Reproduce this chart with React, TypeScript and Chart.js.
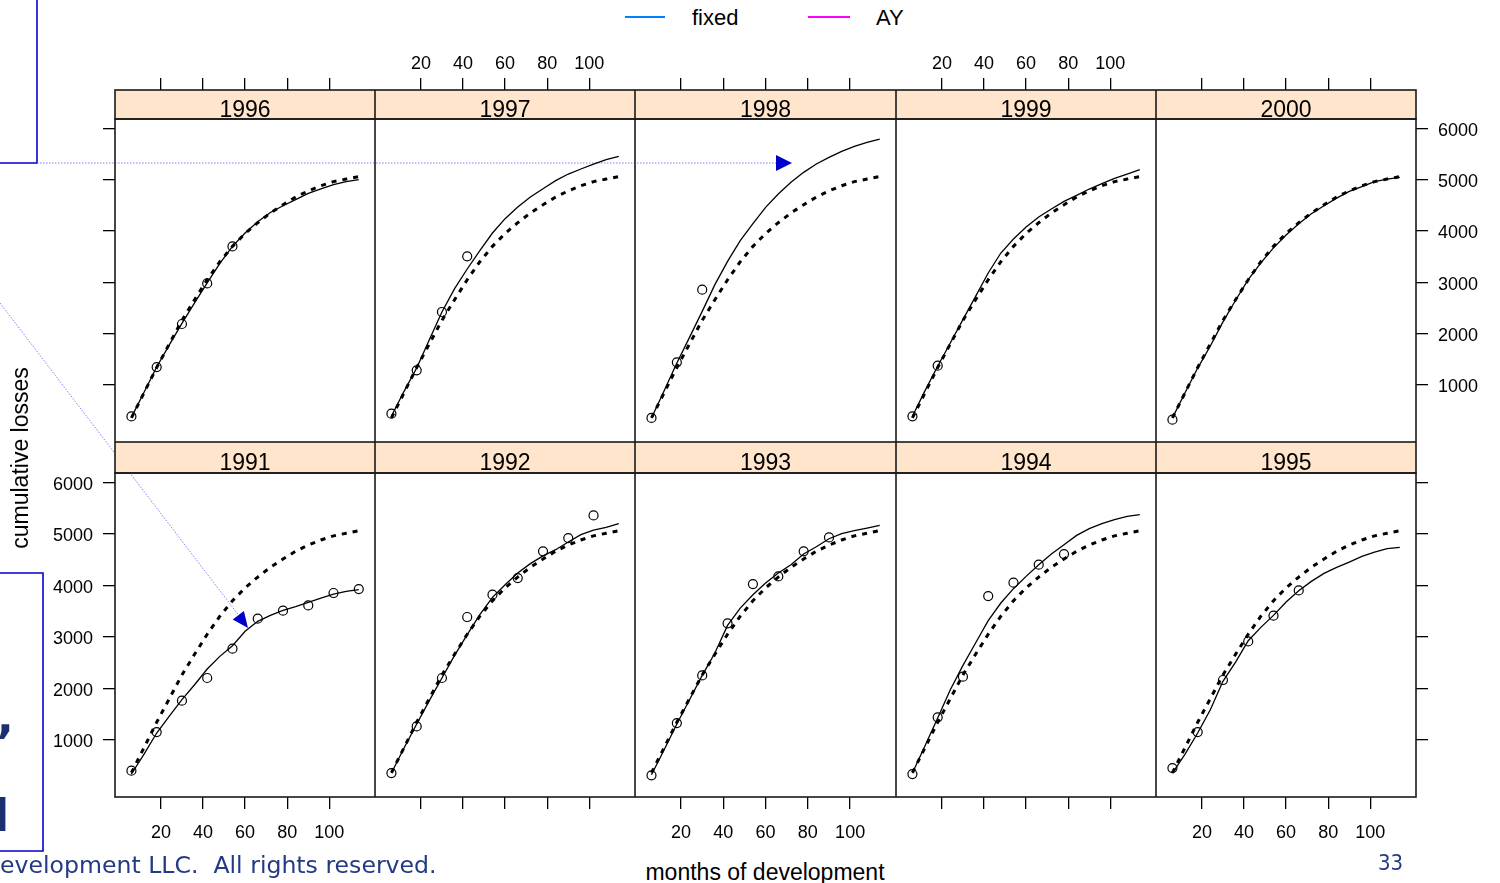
import React, { useEffect, useRef } from "react";
import { Chart, registerables } from "chart.js";

Chart.register(...registerables);

// ---------------- data ----------------
const CURVE_MONTHS = [6, 12, 18, 24, 30, 36, 42, 48, 54, 60, 66, 72, 78, 84, 90, 96, 102, 108, 114];
const OBS_MONTHS = [6, 18, 30, 42, 54, 66, 78, 90, 102, 114];
const X_TICKS = [20, 40, 60, 80, 100];
const Y_TICKS = [1000, 2000, 3000, 4000, 5000, 6000];

const FIXED = [360, 850, 1340, 1800, 2260, 2660, 3050, 3400, 3700, 3950, 4160, 4350, 4510, 4660, 4780, 4880, 4960, 5010, 5060];

const AY_1996 = [370, 860, 1350, 1780, 2200, 2600, 2990, 3370, 3700, 3960, 4180, 4360, 4490, 4610, 4730, 4820, 4900, 4960, 5000];
const OBS_1996 = [388, 1350, 2188, 2978, 3699];
const AY_1997 = [390, 877, 1331, 1883, 2422, 2876, 3259, 3616, 3960, 4239, 4466, 4661, 4823, 4979, 5108, 5206, 5303, 5387, 5452];
const OBS_1997 = [442, 1286, 2422, 3505];
const AY_1998 = [358, 890, 1428, 1928, 2434, 2954, 3408, 3810, 4141, 4460, 4720, 4950, 5141, 5303, 5433, 5550, 5647, 5725, 5790];
const OBS_1998 = [358, 1442, 2856];
const AY_1999 = [390, 890, 1364, 1818, 2272, 2727, 3181, 3570, 3843, 4076, 4271, 4427, 4576, 4693, 4816, 4920, 5024, 5108, 5193];
const OBS_1999 = [390, 1376];
const AY_2000 = [360, 850, 1330, 1760, 2230, 2650, 3050, 3380, 3670, 3920, 4140, 4335, 4490, 4640, 4770, 4865, 4960, 5010, 5045];
const OBS_2000 = [325];
const AY_1991 = [336, 724, 1132, 1460, 1779, 2070, 2374, 2620, 2827, 3106, 3300, 3416, 3513, 3584, 3668, 3753, 3830, 3882, 3914];
const OBS_1991 = [401, 1151, 1760, 2200, 2769, 3351, 3507, 3610, 3850, 3927];
const AY_1992 = [355, 841, 1307, 1760, 2200, 2640, 3041, 3429, 3766, 4011, 4238, 4420, 4570, 4691, 4840, 4982, 5073, 5124, 5196];
const OBS_1992 = [355, 1261, 2200, 3384, 3817, 4141, 4659, 4917, 5357];
const AY_1993 = [323, 808, 1307, 1779, 2251, 2685, 3222, 3558, 3817, 4044, 4238, 4400, 4607, 4749, 4904, 5001, 5060, 5111, 5163];
const OBS_1993 = [310, 1326, 2251, 3261, 4024, 4173, 4659, 4930];
const AY_1994 = [355, 886, 1423, 1973, 2445, 2879, 3313, 3656, 3934, 4173, 4400, 4607, 4788, 4969, 5099, 5196, 5273, 5338, 5370];
const OBS_1994 = [336, 1436, 2226, 3791, 4050, 4400, 4607];
const AY_1995 = [355, 724, 1132, 1585, 2135, 2510, 2924, 3183, 3416, 3675, 3895, 4076, 4231, 4348, 4451, 4561, 4646, 4710, 4736];
const OBS_1995 = [452, 1151, 2161, 2911, 3410, 3901];

const PANELS = [
  { year: "1996", row: 0, col: 0, ay: AY_1996, obs: OBS_1996 },
  { year: "1997", row: 0, col: 1, ay: AY_1997, obs: OBS_1997 },
  { year: "1998", row: 0, col: 2, ay: AY_1998, obs: OBS_1998 },
  { year: "1999", row: 0, col: 3, ay: AY_1999, obs: OBS_1999 },
  { year: "2000", row: 0, col: 4, ay: AY_2000, obs: OBS_2000 },
  { year: "1991", row: 1, col: 0, ay: AY_1991, obs: OBS_1991 },
  { year: "1992", row: 1, col: 1, ay: AY_1992, obs: OBS_1992 },
  { year: "1993", row: 1, col: 2, ay: AY_1993, obs: OBS_1993 },
  { year: "1994", row: 1, col: 3, ay: AY_1994, obs: OBS_1994 },
  { year: "1995", row: 1, col: 4, ay: AY_1995, obs: OBS_1995 },
];

// ---------------- layout ----------------
const X_MIN = -1.8, X_MAX = 121.7, Y_MIN = -110, Y_MAX = 6180;
const EDGES = [115, 375, 635, 896, 1156, 1416];
const LEFT_W = 100, RIGHT_W = 85;
const ROWS = [
  { canvasTop: 40, axisH: 50, stripH: 29, areaBottom: 442 },
  { canvasTop: 442, axisH: 60, stripH: 31, areaBottom: 797 },
];
const STRIP_SHIFT = 13;
const FONT = "'Liberation Sans', Arial, sans-serif";
const STRIP_BG = "#ffe5cc";

function geometry(row: number, col: number) {
  const r = ROWS[row];
  const x = EDGES[col] - (col === 0 ? LEFT_W : 0);
  const right = EDGES[col + 1] + (col === 4 ? RIGHT_W : 0);
  const y = r.canvasTop;
  const bottom = row === 0 ? r.areaBottom : r.areaBottom + r.axisH;
  return { x, y, w: right - x, h: bottom - y };
}

const latticePlugin = {
  id: "latticeFrame",
  beforeDraw(chart: any) {
    const ctx = chart.ctx;
    const ca = chart.chartArea;
    const tb = chart.titleBlock;
    if (!tb) return;
    ctx.save();
    ctx.fillStyle = STRIP_BG;
    ctx.fillRect(ca.left, tb.top, ca.right - ca.left, tb.bottom - tb.top);
    ctx.strokeStyle = "#1a1a1a";
    ctx.lineWidth = 1.6;
    ctx.strokeRect(ca.left, tb.top, ca.right - ca.left, tb.bottom - tb.top);
    ctx.restore();
  },
  afterDraw(chart: any) {
    const ctx = chart.ctx;
    const ca = chart.chartArea;
    ctx.save();
    ctx.strokeStyle = "#1a1a1a";
    ctx.lineWidth = 1.6;
    ctx.strokeRect(ca.left, ca.top, ca.right - ca.left, ca.bottom - ca.top);
    ctx.restore();
  },
};

function tickAxis(extra: any) {
  return {
    grid: { display: true, drawOnChartArea: false, drawTicks: true, tickLength: 12, color: "#000", lineWidth: 1.3 },
    border: { display: false },
    ...extra,
  };
}

function fixSize(dim: "width" | "height", size: number) {
  return (s: any) => {
    if (s.options.display !== false) s[dim] = size;
    s.paddingTop = 0;
    s.paddingBottom = 0;
    s.paddingLeft = 0;
    s.paddingRight = 0;
  };
}

function Panel({ p }: { p: any }) {
  const ref = useRef<HTMLCanvasElement>(null);
  const g = geometry(p.row, p.col);
  useEffect(() => {
    const r = ROWS[p.row];
    const fixedPts = CURVE_MONTHS.map((m, i) => ({ x: m, y: FIXED[i] }));
    const ayPts = CURVE_MONTHS.map((m, i) => ({ x: m, y: p.ay[i] }));
    const obsPts = p.obs.map((v: number, i: number) => ({ x: OBS_MONTHS[i], y: v }));
    const xTicksSet = (s: any) => { s.ticks = X_TICKS.map((v) => ({ value: v })); };
    const yTicksSet = (s: any) => { s.ticks = Y_TICKS.map((v) => ({ value: v })); };
    const tickFont = { family: FONT, size: 18 };
    const plain = (v: any) => String(v);
    const scales: any = {
      x: tickAxis({
        type: "linear",
        position: p.row === 0 ? "top" : "bottom",
        min: X_MIN,
        max: X_MAX,
        weight: 10,
        afterBuildTicks: xTicksSet,
        afterFit: fixSize("height", r.axisH),
        ticks: {
          display: p.row === 0 ? p.col % 2 === 1 : p.col % 2 === 0,
          font: tickFont,
          color: "#000",
          padding: p.row === 0 ? 3 : 13,
          maxRotation: 0,
          autoSkip: false,
          callback: plain,
        },
      }),
      y: tickAxis({
        type: "linear",
        position: "left",
        display: p.col === 0,
        min: Y_MIN,
        max: Y_MAX,
        afterBuildTicks: yTicksSet,
        afterFit: fixSize("width", LEFT_W),
        ticks: { display: p.row === 1, font: tickFont, color: "#000", padding: 10, labelOffset: 2.5, autoSkip: false, callback: plain },
      }),
    };
    if (p.col === 4) {
      scales.y2 = tickAxis({
        type: "linear",
        position: "right",
        min: Y_MIN,
        max: Y_MAX,
        afterBuildTicks: yTicksSet,
        afterFit: fixSize("width", RIGHT_W),
        ticks: { display: p.row === 0, font: tickFont, color: "#000", padding: 10, labelOffset: 2.5, autoSkip: false, callback: plain },
      });
    }
    const chart = new Chart(ref.current as HTMLCanvasElement, {
      type: "scatter",
      data: {
        datasets: [
          {
            label: "fixed",
            data: fixedPts,
            showLine: true,
            borderColor: "#000",
            borderWidth: 3,
            borderDash: [5, 6],
            pointRadius: 0,
            fill: false,
          },
          {
            label: "AY",
            data: ayPts,
            showLine: true,
            borderColor: "#000",
            borderWidth: 1.3,
            pointRadius: 0,
            fill: false,
          },
          {
            label: "observed",
            data: obsPts,
            showLine: false,
            pointRadius: 4.5,
            pointBorderWidth: 1.2,
            pointBorderColor: "#000",
            pointBackgroundColor: "rgba(0,0,0,0)",
          },
        ],
      } as any,
      options: {
        responsive: false,
        animation: false,
        events: [],
        layout: { padding: 0, autoPadding: false },
        scales,
        plugins: {
          legend: { display: false },
          tooltip: { enabled: false },
          title: {
            display: true,
            text: p.year,
            position: "top",
            fullSize: false,
            weight: 0,
            padding: { top: STRIP_SHIFT, bottom: 0 },
            color: "#000",
            font: { family: FONT, size: 23, weight: "normal", lineHeight: r.stripH - STRIP_SHIFT + "px" },
          },
        },
      } as any,
      plugins: [latticePlugin],
    });
    return () => chart.destroy();
  }, []);
  return (
    <canvas
      ref={ref}
      width={g.w}
      height={g.h}
      style={{ position: "absolute", left: g.x, top: g.y, width: g.w, height: g.h }}
    />
  );
}

function Txt(props: { x: number; y: number; text: string; size: number; family?: string; color?: string; weight?: any; center?: boolean; rotate?: number }) {
  const { x, y, text, size, family = FONT, color = "#000", weight = "normal", center = false, rotate = 0 } = props;
  const tx = center ? "-50%" : "0";
  return (
    <div
      style={{
        position: "absolute",
        left: x,
        top: y,
        fontFamily: family,
        fontSize: size,
        lineHeight: `${size}px`,
        color,
        fontWeight: weight,
        whiteSpace: "pre",
        transform: `translate(${tx}, -50%) rotate(${rotate}deg)`,
      }}
    >
      {text}
    </div>
  );
}

export default function App() {
  return (
    <div style={{ position: "absolute", left: 0, top: 0, width: 1500, height: 883, overflow: "hidden", background: "#fff" }}>
      <svg width={1500} height={883} style={{ position: "absolute", left: 0, top: 0 }}>
        {/* slide boxes */}
        <polyline points="37,0 37,163 -2,163" fill="none" stroke="#0000cc" strokeWidth={1.6} />
        <polyline points="-2,573 43,573 43,851 -2,851" fill="none" stroke="#0000cc" strokeWidth={1.6} />
        {/* annotation pointers */}
        <line x1={37} y1={163} x2={777} y2={163} stroke="#8080ff" strokeWidth={1} strokeDasharray="1.5 1.5" />
        <polygon points="776,155 792,163 776,171" fill="#0000cc" />
        <line x1={0} y1={303} x2={240} y2={617} stroke="#8080ff" strokeWidth={1} strokeDasharray="1.5 1.5" />
        <polygon points="248,628 232.7,619.6 243.9,611.1" fill="#0000cc" />
      </svg>
      {PANELS.map((p) => (
        <Panel key={p.year} p={p} />
      ))}
      {/* legend */}
      <div style={{ position: "absolute", left: 625, top: 16, width: 40, height: 1.5, background: "#0080ff" }} />
      <Txt x={692} y={18} text="fixed" size={22} />
      <div style={{ position: "absolute", left: 808, top: 16, width: 42, height: 1.5, background: "#ff00ff" }} />
      <Txt x={876} y={18} text="AY" size={22} />
      {/* axis titles */}
      <Txt x={20} y={458} text="cumulative losses" size={23} center rotate={-90} />
      <Txt x={765} y={872} text="months of development" size={23} center />
      {/* slide residue */}
      <Txt x={-3} y={718} text="," size={44} family="'DejaVu Sans', sans-serif" weight="bold" color="#1c2f6e" />
      <Txt x={-6} y={816} text="l" size={44} family="'DejaVu Sans', sans-serif" weight="bold" color="#1c2f6e" />
      <Txt x={0} y={866} text="evelopment LLC.  All rights reserved." size={23.6} family="'DejaVu Sans', sans-serif" color="#233a84" />
      <Txt x={1378} y={863} text="33" size={22} family="'DejaVu Sans Condensed', 'DejaVu Sans', sans-serif" color="#233a84" />
    </div>
  );
}
